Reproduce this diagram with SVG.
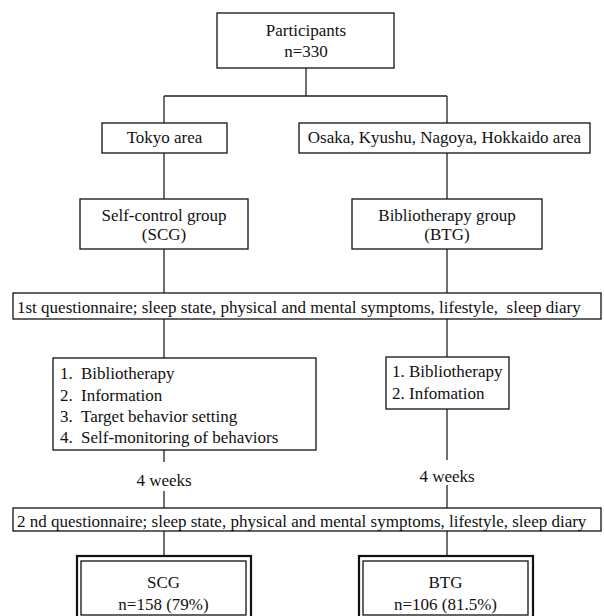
<svg xmlns="http://www.w3.org/2000/svg" width="604" height="616" viewBox="0 0 604 616">
<style>
rect{fill:#fff;stroke:#111;stroke-width:1.3}
.c line{stroke:#222;stroke-width:1.3}
.o{stroke-width:2.2}
text{font-family:'Liberation Serif','Times New Roman',serif;font-size:17px;fill:#111}
.m{text-anchor:middle}
</style>
<g class="c">
<line x1="306" y1="68" x2="306" y2="96"/>
<line x1="164" y1="96" x2="447" y2="96"/>
<line x1="164" y1="96" x2="164" y2="123"/>
<line x1="447" y1="96" x2="447" y2="123"/>
<line x1="164" y1="153" x2="164" y2="199"/>
<line x1="447" y1="153" x2="447" y2="199"/>
<line x1="164" y1="249" x2="164" y2="293"/>
<line x1="447" y1="249" x2="447" y2="293"/>
<line x1="164" y1="319" x2="164" y2="358"/>
<line x1="447" y1="319" x2="447" y2="357"/>
<line x1="164" y1="450" x2="164" y2="462"/>
<line x1="447" y1="409" x2="447" y2="460"/>
<line x1="164" y1="491" x2="164" y2="508"/>
<line x1="447" y1="485" x2="447" y2="508"/>
<line x1="164" y1="531" x2="164" y2="556"/>
<line x1="447" y1="531" x2="447" y2="556"/>
</g>
<g id="participants">
<rect x="217" y="13" width="177" height="55"/>
<text class="m" font-family="Liberation Serif" x="306" y="36">Participants</text>
<text class="m" font-family="Liberation Serif" x="306" y="57">n=330</text>
</g>
<g id="tokyo">
<rect x="102" y="123" width="125" height="30"/>
<text class="m" font-family="Liberation Serif" x="164.5" y="143">Tokyo area</text>
</g>
<g id="osaka">
<rect x="299" y="123" width="291" height="30"/>
<text class="m" font-family="Liberation Serif" x="444.5" y="143">Osaka, Kyushu, Nagoya, Hokkaido area</text>
</g>
<g id="scg">
<rect x="80" y="199" width="168" height="50"/>
<text class="m" font-family="Liberation Serif" x="164" y="221">Self-control group</text>
<text class="m" font-family="Liberation Serif" x="164" y="240">(SCG)</text>
</g>
<g id="btg">
<rect x="352" y="199" width="190" height="50"/>
<text class="m" font-family="Liberation Serif" x="447" y="221">Bibliotherapy group</text>
<text class="m" font-family="Liberation Serif" x="447" y="240">(BTG)</text>
</g>
<g id="q1">
<rect x="13" y="293" width="588" height="26"/>
<text font-family="Liberation Serif" x="17" y="313" xml:space="preserve">1st questionnaire; sleep state, physical and mental symptoms, lifestyle,  sleep diary</text>
</g>
<g id="scg-list">
<rect x="53" y="358" width="263" height="92"/>
<text font-family="Liberation Serif" x="60" y="379">1.</text><text font-family="Liberation Serif" x="81" y="379">Bibliotherapy</text>
<text font-family="Liberation Serif" x="60" y="401">2.</text><text font-family="Liberation Serif" x="81" y="401">Information</text>
<text font-family="Liberation Serif" x="60" y="422">3.</text><text font-family="Liberation Serif" x="81" y="422">Target behavior setting</text>
<text font-family="Liberation Serif" x="60" y="443">4.</text><text font-family="Liberation Serif" x="81" y="443">Self-monitoring of behaviors</text>
</g>
<g id="btg-list">
<rect x="386" y="357" width="123" height="52"/>
<text font-family="Liberation Serif" x="392" y="377">1. Bibliotherapy</text>
<text font-family="Liberation Serif" x="392" y="399">2. Infomation</text>
</g>
<g id="weeks-l"><text class="m" font-family="Liberation Serif" x="164" y="486">4 weeks</text></g>
<g id="weeks-r"><text class="m" font-family="Liberation Serif" x="447" y="482">4 weeks</text></g>
<g id="q2">
<rect x="13" y="508" width="588" height="23"/>
<text font-family="Liberation Serif" x="17" y="527">2 nd questionnaire; sleep state, physical and mental symptoms, lifestyle, sleep diary</text>
</g>
<g id="scg-final">
<rect class="o" x="77" y="556" width="174" height="66"/>
<rect x="81" y="561" width="165" height="54"/>
<text class="m" font-family="Liberation Serif" x="163.5" y="588">SCG</text>
<text class="m" font-family="Liberation Serif" x="163.5" y="610">n=158 (79%)</text>
</g>
<g id="btg-final">
<rect class="o" x="359" y="556" width="174" height="66"/>
<rect x="363" y="561" width="165" height="54"/>
<text class="m" font-family="Liberation Serif" x="445.5" y="588">BTG</text>
<text class="m" font-family="Liberation Serif" x="445.5" y="610">n=106 (81.5%)</text>
</g>
</svg>
